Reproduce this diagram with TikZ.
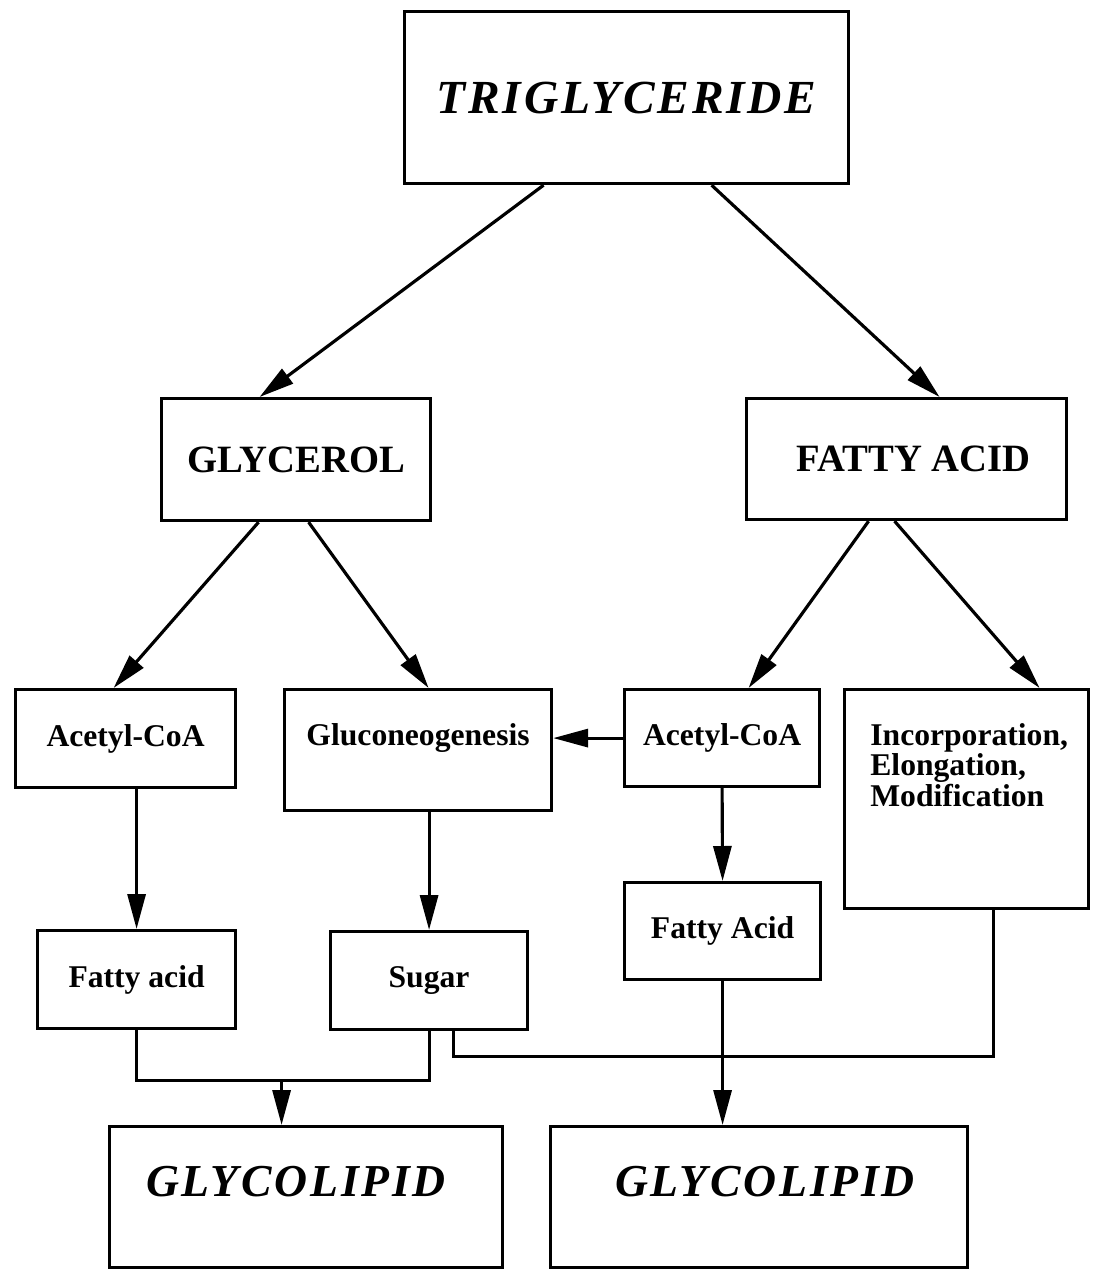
\documentclass[tikz,border=0pt]{standalone}
\usepackage{fontspec}
\setmainfont{Liberation Serif}
\newfontfamily\shadefont[LetterSpace=6]{Liberation Serif}
\usepackage{tikz}
\usetikzlibrary{arrows.meta, positioning, calc}

\begin{document}
\begin{tikzpicture}[
    every node/.style={font=\fontsize{18}{13.5}\selectfont\bfseries},
    box/.style={draw, line width=1.8pt, inner sep=0, anchor=north west},
    big/.style={font=\fontsize{22}{26}\selectfont\bfseries},
    fancy/.style={font=\fontsize{#1}{30}\selectfont\shadefont\bfseries\itshape},
    fancy/.default=26,
    arr/.style={-{Triangle[length=7mm, width=3.6mm]}, line width=1.8pt}
]
\useasboundingbox (0,0) rectangle (21.84,-25.40);

% Top: triglyceride
\node[box, minimum width=8.88cm, minimum height=3.44cm, fancy=27] (trig) at (8.06,-0.20) {TRIGLYCERIDE};

% Second row
\node[box, minimum width=5.38cm, minimum height=2.44cm, big] (glycerol) at (3.20,-7.94) {GLYCEROL};
\node[box, minimum width=6.40cm, minimum height=2.42cm, big] (fatty) at (14.90,-7.94) {};
\node[big] at ([xshift=0.14cm]fatty.center) {FATTY ACID};

% Third row
\node[box, minimum width=4.40cm, minimum height=1.96cm] (acetylL) at (0.28,-13.76) {Acetyl-CoA};
\node[box, minimum width=5.34cm, minimum height=2.42cm] (gluco) at (5.66,-13.76) {};
\node at ([yshift=-1.0cm]gluco.north) {Gluconeogenesis};
\node[box, minimum width=3.90cm, minimum height=1.94cm] (acetylR) at (12.46,-13.76) {Acetyl-CoA};
\node[box, minimum width=4.88cm, minimum height=4.38cm] (incorp) at (16.86,-13.76) {};
\node[anchor=north west, align=left, inner sep=0] at ([xshift=0.54cm, yshift=-0.7cm]incorp.north west)
    {Incorporation,\\Elongation,\\Modification};

% Fourth row
\node[box, minimum width=3.96cm, minimum height=1.96cm] (fattyL) at (0.72,-18.58) {Fatty acid};
\node[box, minimum width=3.94cm, minimum height=1.96cm] (sugar) at (6.58,-18.60) {Sugar};
\node[box, minimum width=3.92cm, minimum height=1.94cm] (fattyR) at (12.46,-17.62) {Fatty Acid};

% Bottom: glycolipids
\node[box, minimum width=7.86cm, minimum height=2.82cm] (glycoL) at (2.16,-22.50) {};
\node[fancy] at ([xshift=-0.2cm, yshift=-1.14cm]glycoL.north) {GLYCOLIPID};
\node[box, minimum width=8.34cm, minimum height=2.82cm] (glycoR) at (10.98,-22.50) {};
\node[fancy] at ([xshift=0.12cm, yshift=-1.14cm]glycoR.north) {GLYCOLIPID};

% Splitting arrows
\draw[arr] ([xshift=-1.66cm]trig.south) -- ([xshift=-0.73cm]glycerol.north);
\draw[arr] ([xshift=1.70cm]trig.south) -- ([xshift=0.66cm]fatty.north);
\draw[arr] ([xshift=-0.75cm]glycerol.south) -- ([xshift=-0.24cm]acetylL.north);
\draw[arr] ([xshift=0.25cm]glycerol.south) -- ([xshift=0.21cm]gluco.north);
\draw[arr] ([xshift=-0.76cm]fatty.south) -- ([xshift=0.53cm]acetylR.north);
\draw[arr] ([xshift=-0.24cm]fatty.south) -- ([xshift=1.46cm]incorp.north);

% Straight arrows
\draw[arr] (acetylR.west) -- (acetylR.west -| gluco.east);
\draw[arr] (fattyL.north |- acetylL.south) -- (fattyL.north);
\draw[arr] (sugar.north |- gluco.south) -- (sugar.north);
\draw[arr] (acetylR.south) -- (fattyR.north);

% Joining lines to the glycolipids
\coordinate (joinL) at ([yshift=-1.0cm]fattyL.south);
\coordinate (dropL) at ([xshift=-0.49cm]glycoL.north);
\draw[line width=1.8pt] (fattyL.south) -- (joinL) -- (joinL -| sugar.south) -- (sugar.south);
\draw[arr] (dropL |- joinL) -- (dropL);

\coordinate (joinR) at ([xshift=0.49cm, yshift=-0.5cm]sugar.south);
\coordinate (riseR) at ([xshift=0.54cm]incorp.south);
\draw[line width=1.8pt] (joinR |- sugar.south) -- (joinR) -- (joinR -| riseR) -- (riseR);
\draw[arr] (fattyR.south) -- (fattyR.south |- glycoR.north);

\end{tikzpicture}
\end{document}
